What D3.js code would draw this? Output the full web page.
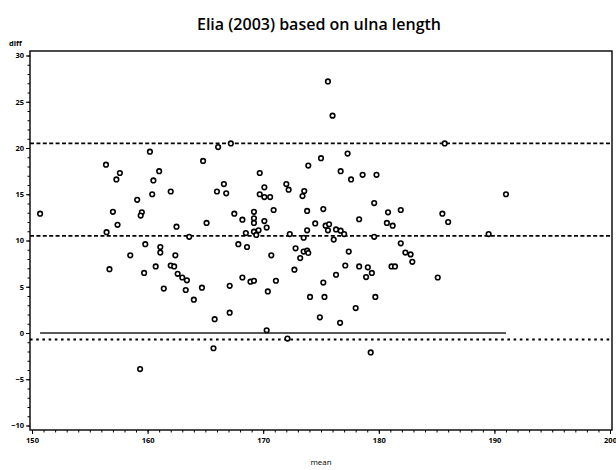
<!DOCTYPE html>
<html><head><meta charset="utf-8">
<script src="https://cdn.jsdelivr.net/npm/d3@7"></script>
<style>body{margin:0;background:#fff}svg{display:block}</style>
</head><body>
<script>
const title = "Elia (2003) based on ulna length";
const xLabel = "mean";
const yLabel = "diff";
const xTicks = [150,160,170,180,190,200];
const yTicks = [-10,-5,0,5,10,15,20,25,30];
const meanVals = [150.7,156.4,157.6,157.3,160.2,161.0,160.5,160.4,162.0,159.1,157.0,159.5,159.4,157.4,162.5,156.45,163.6,165.1,164.8,166.1,167.2,166.6,166.0,166.8,175.6,176.0,175.0,173.9,177.3,176.7,177.6,178.6,179.8,169.7,170.1,169.7,170.1,170.6,172.0,172.2,173.55,173.4,179.6,175.2,173.8,170.9,167.5,169.2,169.2,169.2,168.2,170.1,170.3,168.5,169.2,169.6,169.4,172.3,173.5,173.8,174.5,175.4,175.7,175.6,176.3,176.7,177.0,178.3,179.6,180.7,181.2,180.8,181.9,176.1,185.7,191.0,185.5,186.0,189.5,159.8,161.1,161.1,158.5,162.4,156.7,159.7,160.7,162.0,162.3,162.6,163.0,163.4,163.3,161.4,164.7,164.0,167.1,167.1,165.8,165.7,159.35,181.9,167.85,168.6,170.7,172.8,173.5,173.8,173.9,173.2,177.4,177.1,178.3,179.05,179.4,178.9,181.1,181.4,172.7,168.2,168.9,169.2,171.1,175.2,176.3,170.4,174.05,175.3,179.7,178.0,174.9,176.65,170.3,172.1,179.3,182.3,182.75,182.9,185.1];
const diffVals = [12.9,18.2,17.3,16.6,19.6,17.5,16.5,15.0,15.3,14.4,13.1,13.05,12.7,11.7,11.5,10.9,10.4,11.9,18.6,20.1,20.5,16.1,15.3,15.1,27.2,23.5,18.9,18.1,19.4,17.5,16.6,17.1,17.1,17.3,15.75,15.0,14.7,14.7,16.1,15.5,15.35,14.8,14.05,13.4,13.2,13.3,12.9,13.1,12.4,11.9,12.25,12.1,11.4,10.8,10.95,11.1,10.6,10.7,10.3,11.1,11.85,11.6,11.75,11.1,11.2,11.06,10.7,12.3,10.4,11.9,11.6,13.05,13.3,10.1,20.5,15.0,12.9,12.0,10.7,9.6,9.3,8.7,8.4,8.4,6.9,6.5,7.2,7.3,7.2,6.4,6.0,5.7,4.65,4.8,4.9,3.6,5.1,2.2,1.5,-1.65,-3.9,9.7,9.6,9.3,8.4,9.15,8.8,8.9,8.65,8.1,8.8,7.3,7.2,7.1,6.5,6.05,7.2,7.2,6.85,6.0,5.55,5.65,5.65,5.45,6.3,4.5,3.9,3.9,3.9,2.7,1.7,1.1,0.3,-0.6,-2.1,8.7,8.5,7.7,6.0];
const upperLoA = 20.5, meanDiff = 10.5, lowerLoA = -0.7;
const zeroLine = [150.7, 191.0];

const W = 616, H = 470;
const svg = d3.select("body").append("svg").attr("width", W).attr("height", H);
const x = d3.scaleLinear().domain([150,200]).range([32,610]);
const y = d3.scaleLinear().domain([-10,30]).range([425.5,55.5]);
const box = {l:30, r:612, t:51, b:430};
const font = "'Open Sans', 'DejaVu Sans', sans-serif";

svg.append("text").attr("x", 319).attr("y", 30).attr("text-anchor","middle")
  .attr("font-family", font).attr("font-weight","600").attr("font-size", 16).text(title);

// frame
svg.append("rect").attr("x", box.l).attr("y", box.t).attr("width", box.r-box.l).attr("height", box.b-box.t)
  .attr("fill","none").attr("stroke","#000").attr("stroke-width",1.4);

// x axis
const xAxis = d3.axisBottom(x).tickValues(xTicks).tickSize(4).tickPadding(4).tickFormat(d3.format("d"));
const gx = svg.append("g").attr("transform",`translate(0,${box.b})`).call(xAxis);
gx.select(".domain").remove();
gx.selectAll("text").attr("font-family", font).attr("font-weight","bold").attr("font-size", 7.5);
const xMinor = d3.axisBottom(x).tickValues(d3.range(150,201,1)).tickSize(2.5).tickFormat("");
const gxm = svg.append("g").attr("transform",`translate(0,${box.b})`).call(xMinor);
gxm.select(".domain").remove();

// y axis
const yAxis = d3.axisLeft(y).tickValues(yTicks).tickSize(4).tickPadding(2).tickFormat(d3.format("d"));
const gy = svg.append("g").attr("transform",`translate(${box.l},0)`).call(yAxis);
gy.select(".domain").remove();
gy.selectAll("text").attr("font-family", font).attr("font-weight","bold").attr("font-size", 7.5);
const yMinor = d3.axisLeft(y).tickValues(d3.range(-10,30.01,1)).tickSize(2.5).tickFormat("");
const gym = svg.append("g").attr("transform",`translate(${box.l},0)`).call(yMinor);
gym.select(".domain").remove();

svg.append("text").attr("x", 9).attr("y", 46).attr("font-family", font).attr("font-weight","bold")
  .attr("font-size", 7.5).text(yLabel);
svg.append("text").attr("x", 321).attr("y", 465).attr("text-anchor","middle").attr("font-family", font)
  .attr("font-size", 8).text(xLabel);

// reference lines
const refs = [
  {v: upperLoA, dash: "4,2.4", w: 1.6},
  {v: meanDiff, dash: "4,2.4", w: 1.6},
  {v: lowerLoA, dash: "2.6,3.6", w: 2.2}
];
svg.selectAll("line.ref").data(refs).join("line").attr("class","ref")
  .attr("x1", box.l).attr("x2", box.r).attr("y1", d => y(d.v)).attr("y2", d => y(d.v))
  .attr("stroke","#000").attr("stroke-width", d => d.w).attr("stroke-dasharray", d => d.dash);
svg.append("line").attr("x1", x(zeroLine[0])).attr("x2", x(zeroLine[1])).attr("y1", y(0)).attr("y2", y(0))
  .attr("stroke","#222").attr("stroke-width",1.3);

// points
const pts = meanVals.map((m,i) => ({m, d: diffVals[i]}));
svg.selectAll("circle.pt").data(pts).join("circle").attr("class","pt")
  .attr("cx", d => x(d.m)).attr("cy", d => y(d.d)).attr("r", 2.3)
  .attr("fill","#fff").attr("stroke","#000").attr("stroke-width",1.6);
</script>
</body></html>
